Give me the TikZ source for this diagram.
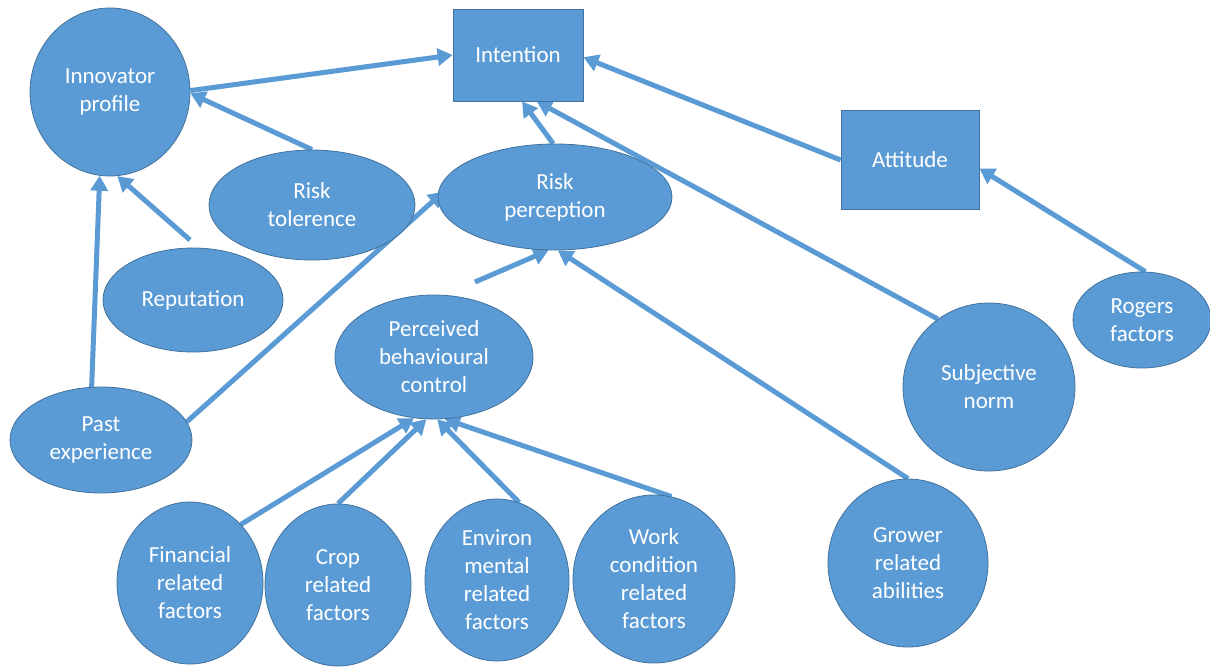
\documentclass[tikz,border=0pt]{standalone}
\usepackage{fontspec}
\setmainfont{Carlito}
\usetikzlibrary{arrows.meta,shapes.geometric,backgrounds}
\definecolor{officeblue}{HTML}{5B9BD5}
\definecolor{officeedge}{HTML}{41719C}
\tikzset{
  shapebase/.style={fill=officeblue, draw=officeedge, line width=0.8pt, text=white,
    font=\fontsize{23}{28}\selectfont, align=center, inner sep=0pt},
  oval/.style={shapebase, ellipse},
  box/.style={shapebase, rectangle},
  arr/.style={draw=officeblue, line width=5pt, -{Triangle[length=15pt,width=17pt]}}
}
\begin{document}
\begin{tikzpicture}[x=1pt, y=-1pt]
\useasboundingbox (0,0) rectangle (1210,667);
% nodes
\node[oval, minimum width=160pt, minimum height=168pt] (ip) at (110,92) {Innovator\\profile};
\node[box, minimum width=130pt, minimum height=92pt] (int) at (518,55) {Intention};
\node[box, minimum width=138pt, minimum height=99pt] (att) at (910,160) {Attitude};
\node[oval, minimum width=206pt, minimum height=110pt] (rt) at (312,205) {Risk\\tolerence};
\node[oval, minimum width=234pt, minimum height=106pt] (rp) at (555,197) {Risk\\perception};
\node[oval, minimum width=180pt, minimum height=104pt] (rep) at (193,300) {Reputation};
\node[oval, minimum width=198pt, minimum height=124pt] (pbc) at (434,357) {Perceived\\behavioural\\control};
\node[oval, minimum width=182pt, minimum height=106pt] (pe) at (101,440) {Past\\experience};
\node[oval, minimum width=146pt, minimum height=162pt] (fin) at (190,583) {Financial\\related\\factors};
\node[oval, minimum width=146pt, minimum height=162pt] (crop) at (338,585) {Crop\\related\\factors};
\node[oval, minimum width=144pt, minimum height=162pt] (env) at (497,580) {Environ\\mental\\related\\factors};
\node[oval, minimum width=162pt, minimum height=168pt] (work) at (654,579) {Work\\condition\\related\\factors};
\node[oval, minimum width=160pt, minimum height=168pt] (grow) at (908,563) {Grower\\related\\abilities};
\node[oval, minimum width=172pt, minimum height=168pt] (sn) at (989,387) {Subjective\\norm};
\node[oval, minimum width=138pt, minimum height=96pt] (rog) at (1142,320) {Rogers\\factors};
% free ends
\coordinate (reptail) at (190,240);
\coordinate (pbctail) at (475,282);
% connectors
\begin{pgfonlayer}{background}
\fill[white] (0,0) rectangle (1210,667);
\draw[arr] (ip.1) -- (int.west);
\draw[arr] (rt.north) -- (ip.-1);
\draw[arr] (reptail) -- (ip.-85);
\draw[arr] (pe.100) -- (ip.-97);
\draw[arr, shorten >=-8pt] (pe.12) -- (rp.180);
\draw[arr] (rp.92) -- (int.-85);
\draw[arr] (sn.127) -- (int.-68);
\draw[arr] (att.west) -- (int.-2);
\draw[arr] (rog.86) -- (att.-7);
\draw[arr] (pbctail) -- (rp.-97);
\draw[arr] (grow.north) -- (rp.-87);
\draw[arr] (fin.49) -- (pbc.-108);
\draw[arr] (crop.north) -- (pbc.-97);
\draw[arr] (env.74) -- (pbc.-87);
\draw[arr] (work.78) -- (pbc.-80);
\end{pgfonlayer}
\end{tikzpicture}
\end{document}
